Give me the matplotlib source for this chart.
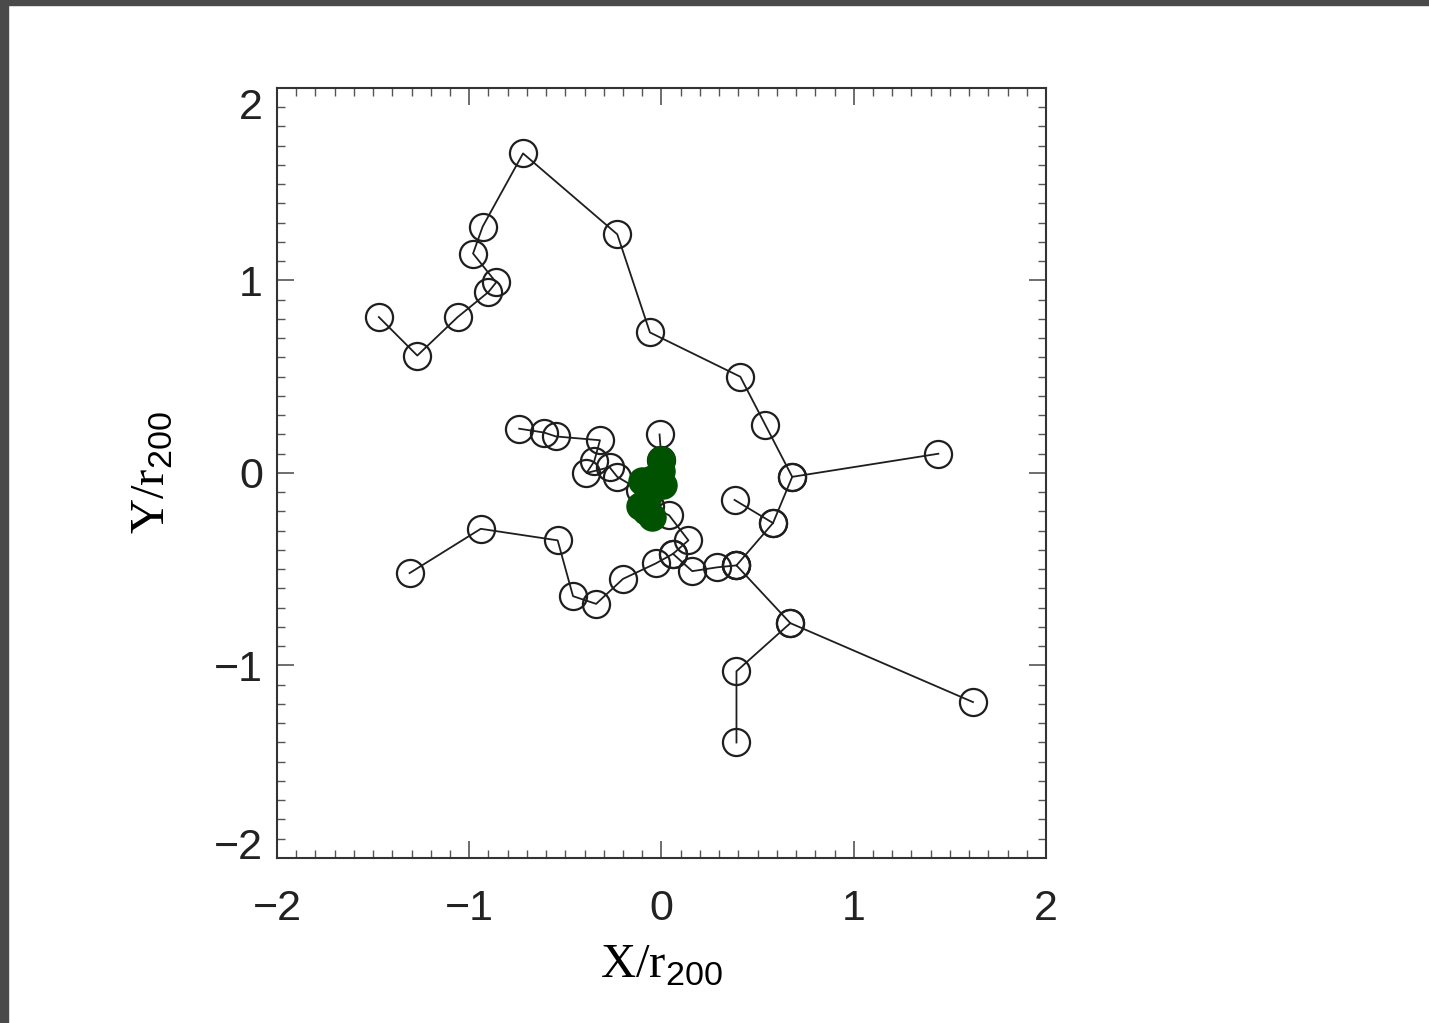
import matplotlib
matplotlib.use("Agg")
import matplotlib.pyplot as plt
from matplotlib.patches import Rectangle
from matplotlib.ticker import MultipleLocator
from matplotlib.transforms import ScaledTranslation

plt.rcParams['mathtext.fontset'] = 'custom'
plt.rcParams['mathtext.rm'] = 'Liberation Serif'
plt.rcParams['mathtext.sf'] = 'Liberation Sans'

# --- progenitor tracks (X/r200, Y/r200), branches share their merge points ---
top_x = [-1.47, -1.27, -1.06, -0.90, -0.86, -0.98, -0.93, -0.72, -0.23, -0.06, 0.41, 0.54, 0.68, 0.58, 0.39]
top_y = [0.81, 0.61, 0.81, 0.94, 0.99, 1.14, 1.28, 1.66, 1.24, 0.73, 0.50, 0.25, -0.02, -0.26, -0.48]

right_x = [1.44, 0.68]
right_y = [0.10, -0.02]

right2_x = [0.38, 0.58]
right2_y = [-0.14, -0.26]

lowright_x = [1.62, 0.67, 0.39]
lowright_y = [-1.19, -0.78, -0.48]

bottom_x = [0.39, 0.39, 0.67]
bottom_y = [-1.40, -1.03, -0.78]

join_x = [0.39, 0.29, 0.16, 0.06]
join_y = [-0.48, -0.49, -0.51, -0.42]

lowleft_x = [-1.31, -0.94, -0.54, -0.46, -0.34, -0.20, -0.03, 0.06, 0.14, 0.04, -0.06]
lowleft_y = [-0.52, -0.29, -0.35, -0.64, -0.68, -0.55, -0.47, -0.42, -0.35, -0.22, -0.17]

midleft_x = [-0.74, -0.61, -0.55, -0.32, -0.35, -0.39, -0.27, -0.23, -0.11]
midleft_y = [0.23, 0.21, 0.19, 0.17, 0.06, 0.00, 0.03, -0.02, -0.09]

topc_x = [-0.01, 0.00]
topc_y = [0.20, 0.07]

# main halo
main_x = [0.00, 0.00, 0.01, -0.05, -0.10, -0.07, -0.11, -0.08, -0.05]
main_y = [0.07, 0.01, -0.06, -0.03, -0.04, -0.12, -0.17, -0.20, -0.23]

tracks = [(top_x, top_y), (right_x, right_y), (right2_x, right2_y),
          (lowright_x, lowright_y), (bottom_x, bottom_y), (join_x, join_y),
          (lowleft_x, lowleft_y), (midleft_x, midleft_y), (topc_x, topc_y)]

fig = plt.figure(figsize=(14.29, 10.23), dpi=100)
ax = fig.add_axes([0.1938, 0.1613, 0.5382, 0.7527])

for tx, ty in tracks:
    ax.plot(tx, ty, 'o', ms=19.5, mfc='none', mec='#1e1e1e', mew=1.6, zorder=2)
for tx, ty in tracks:
    ax.plot(tx, ty, '-', color='#1e1e1e', lw=1.3, zorder=3)

ax.plot(main_x, main_y, 'o', ms=19.5, color='#005200', mec='#005200', zorder=4)

ax.set_xlim(-2, 2)
ax.set_ylim(-2, 2)
ax.xaxis.set_major_locator(MultipleLocator(1))
ax.yaxis.set_major_locator(MultipleLocator(1))
ax.xaxis.set_minor_locator(MultipleLocator(0.1))
ax.yaxis.set_minor_locator(MultipleLocator(0.1))
ax.tick_params(which='both', direction='in', top=True, right=True, color='#555555')
ax.tick_params(which='major', length=12, width=1.2)
ax.tick_params(which='minor', length=6, width=1.0)
ax.tick_params(axis='x', pad=22)
ax.tick_params(axis='y', pad=10)
for sp in ax.spines.values():
    sp.set_linewidth(1.5)
    sp.set_color('#333333')

ax.set_xlabel(r'$\mathrm{X/r}_{\mathsf{200}}$', fontsize=35, labelpad=8)
ax.set_ylabel(r'$\mathrm{Y/r}_{\mathsf{200}}$', fontsize=35, labelpad=28)

fig.canvas.draw()
for lab in ax.get_xticklabels() + ax.get_yticklabels():
    lab.set_fontfamily('Liberation Sans')
    lab.set_fontsize(31)
    lab.set_color('#222222')
# end labels on the y axis sit inside the frame range
for tick in ax.yaxis.get_major_ticks():
    if abs(tick.get_loc() - 2) < 1e-6:
        tick.label1.set_transform(tick.label1.get_transform()
                                  + ScaledTranslation(0, -0.16, fig.dpi_scale_trans))
    elif abs(tick.get_loc() + 2) < 1e-6:
        tick.label1.set_transform(tick.label1.get_transform()
                                  + ScaledTranslation(0, 0.14, fig.dpi_scale_trans))

# dark frame strips of the original screenshot
fig.patches.append(Rectangle((0, 0), 8 / 1429, 1, transform=fig.transFigure,
                             color='#4a4a4a', zorder=10))
fig.patches.append(Rectangle((0, 1 - 5 / 1023), 1, 5 / 1023, transform=fig.transFigure,
                             color='#4a4a4a', zorder=10))

fig.savefig('out.png', dpi=100)
